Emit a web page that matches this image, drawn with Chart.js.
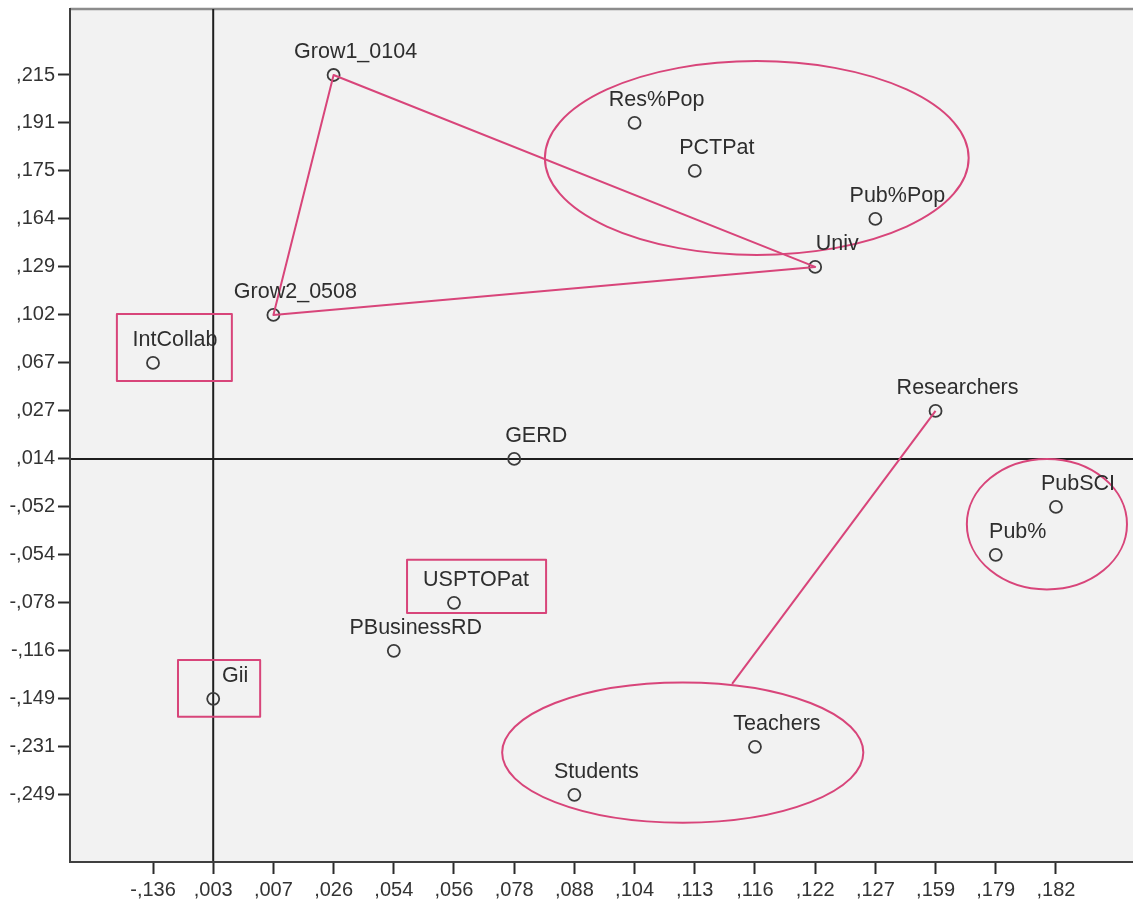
<!DOCTYPE html>
<html>
<head>
<meta charset="utf-8">
<script src="https://cdn.jsdelivr.net/npm/chart.js@4/dist/chart.umd.min.js"></script>
<style>
  html, body { margin: 0; padding: 0; background: #ffffff; }
  #wrap { width: 1133px; height: 904px; position: relative; }
</style>
</head>
<body>
<div id="wrap"><canvas id="plot"></canvas></div>
<script>
// Ordinal axes: each tick is one observed coordinate value
const xTickLabels = ['-,136', ',003', ',007', ',026', ',054', ',056', ',078', ',088',
                     ',104', ',113', ',116', ',122', ',127', ',159', ',179', ',182'];
const yTickLabels = [',215', ',191', ',175', ',164', ',129', ',102', ',067', ',027',
                     ',014', '-,052', '-,054', '-,078', '-,116', '-,149', '-,231', '-,249'];

// Variables and their coordinates (as axis labels)
const variables = ['Grow1_0104', 'Res%Pop', 'PCTPat', 'Pub%Pop', 'Univ', 'Grow2_0508',
                   'IntCollab', 'Researchers', 'GERD', 'PubSCI', 'Pub%', 'USPTOPat',
                   'PBusinessRD', 'Gii', 'Teachers', 'Students'];
const xValues = [',026', ',104', ',113', ',127', ',122', ',007',
                 '-,136', ',159', ',078', ',182', ',179', ',056',
                 ',054', ',003', ',116', ',088'];
const yValues = [',215', ',191', ',175', ',164', ',129', ',102',
                 ',067', ',027', ',014', '-,052', '-,054', '-,078',
                 '-,116', '-,149', '-,231', '-,249'];

// Reference lines through the origin
const originX = ',003';
const originY = ',014';

// Hand-drawn groupings, in axis units (tick index)
const groupEllipses = [
  { cx: 10.03, cy: 1.73, rx: 3.52, ry: 2.02 },
  { cx: 14.85, cy: 9.36, rx: 1.33, ry: 1.36 },
  { cx: 8.80,  cy: 14.12, rx: 3.00, ry: 1.46 }
];
const groupBoxes = [
  { x0: -0.60, y0: 4.98,  x1: 1.31, y1: 6.375 },
  { x0: 4.22,  y0: 10.10, x1: 6.53, y1: 11.21 },
  { x0: 0.415, y0: 12.19, x1: 1.78, y1: 13.375 }
];
const triangle = ['Grow1_0104', 'Univ', 'Grow2_0508'];
const connector = { from: 'Researchers', x: 9.62, y: 12.69 };

const PINK = '#d8457a';
const FONT = '"Liberation Sans", Arial, sans-serif';

const points = variables.map((name, i) => ({
  x: xTickLabels.indexOf(xValues[i]),
  y: yTickLabels.indexOf(yValues[i]),
  name
}));

const overlay = {
  id: 'overlay',
  beforeDraw(chart) {
    const { ctx, chartArea: a } = chart;
    ctx.save();
    ctx.fillStyle = '#f2f2f2';
    ctx.fillRect(a.left, a.top, a.right - a.left, a.bottom - a.top);
    // frame top edge
    ctx.strokeStyle = '#8c8c8c';
    ctx.lineWidth = 2.5;
    ctx.beginPath();
    ctx.moveTo(a.left, a.top);
    ctx.lineTo(a.right, a.top);
    ctx.stroke();
    // origin lines
    const xs = chart.scales.x, ys = chart.scales.y;
    const ox = xs.getPixelForValue(xTickLabels.indexOf(originX));
    const oy = ys.getPixelForValue(yTickLabels.indexOf(originY));
    ctx.strokeStyle = '#1e1e1e';
    ctx.lineWidth = 2;
    ctx.beginPath();
    ctx.moveTo(ox, a.top); ctx.lineTo(ox, a.bottom);
    ctx.moveTo(a.left, oy); ctx.lineTo(a.right, oy);
    ctx.stroke();
    ctx.restore();
  },
  afterDatasetsDraw(chart) {
    const { ctx } = chart;
    const xs = chart.scales.x, ys = chart.scales.y;
    const px = v => xs.getPixelForValue(v);
    const py = v => ys.getPixelForValue(v);
    const byName = n => points.find(p => p.name === n);
    ctx.save();
    ctx.strokeStyle = PINK;
    ctx.lineWidth = 2;
    ctx.lineJoin = 'round';

    // triangle between growth variables and Univ
    ctx.beginPath();
    triangle.forEach((n, i) => {
      const p = byName(n);
      if (i === 0) ctx.moveTo(px(p.x), py(p.y)); else ctx.lineTo(px(p.x), py(p.y));
    });
    ctx.closePath();
    ctx.stroke();

    // connector from Researchers to the lower group
    const r = byName(connector.from);
    ctx.beginPath();
    ctx.moveTo(px(r.x), py(r.y));
    ctx.lineTo(px(connector.x), py(connector.y));
    ctx.stroke();

    groupEllipses.forEach(e => {
      const cx = px(e.cx), cy = py(e.cy);
      const rx = Math.abs(px(e.cx + e.rx) - cx), ry = Math.abs(py(e.cy + e.ry) - cy);
      ctx.beginPath();
      ctx.ellipse(cx, cy, rx, ry, 0, 0, Math.PI * 2);
      ctx.stroke();
    });

    groupBoxes.forEach(b => {
      const x0 = px(b.x0), x1 = px(b.x1), y0 = py(b.y0), y1 = py(b.y1);
      ctx.strokeRect(x0, y0, x1 - x0, y1 - y0);
    });

    // variable labels
    ctx.fillStyle = '#2e2e2e';
    ctx.font = '21.5px ' + FONT;
    ctx.textAlign = 'center';
    ctx.textBaseline = 'middle';
    points.forEach(p => {
      ctx.fillText(p.name, px(p.x) + 22, py(p.y) - 23);
    });
    ctx.restore();
  }
};

const axisTicks = labels => scale => {
  scale.ticks = labels.map((_, i) => ({ value: i }));
};

new Chart(document.getElementById('plot'), {
  type: 'scatter',
  data: {
    datasets: [{
      data: points,
      pointStyle: 'circle',
      pointRadius: 6,
      pointHoverRadius: 6,
      pointBorderWidth: 1.8,
      borderColor: '#3a3a3a',
      backgroundColor: 'rgba(0,0,0,0)'
    }]
  },
  options: {
    responsive: true,
    maintainAspectRatio: false,
    animation: false,
    events: [],
    layout: { autoPadding: false, padding: { top: 9, right: 0, bottom: 0, left: 0 } },
    plugins: { legend: { display: false }, tooltip: { enabled: false } },
    scales: {
      x: {
        type: 'linear',
        min: -1.379,
        max: 16.28,
        afterBuildTicks: axisTicks(xTickLabels),
        afterFit: s => { s.height = 42; s.paddingLeft = 0; s.paddingRight = 0; },
        border: { display: true, color: '#404040', width: 2 },
        grid: { drawOnChartArea: false, drawTicks: true, tickLength: 12, tickColor: '#2a2a2a', tickWidth: 2 },
        ticks: {
          autoSkip: false,
          maxRotation: 0,
          padding: 4,
          color: '#333333',
          font: { family: FONT, size: 20 },
          callback: v => xTickLabels[v]
        }
      },
      y: {
        type: 'linear',
        reverse: true,
        min: -1.375,
        max: 16.40,
        afterBuildTicks: axisTicks(yTickLabels),
        afterFit: s => { s.width = 70; s.paddingTop = 0; s.paddingBottom = 0; },
        border: { display: true, color: '#404040', width: 2 },
        grid: { drawOnChartArea: false, drawTicks: true, tickLength: 12, tickColor: '#2a2a2a', tickWidth: 2 },
        ticks: {
          autoSkip: false,
          padding: 3,
          color: '#333333',
          font: { family: FONT, size: 20 },
          callback: v => yTickLabels[v]
        }
      }
    }
  },
  plugins: [overlay]
});
</script>
</body>
</html>
